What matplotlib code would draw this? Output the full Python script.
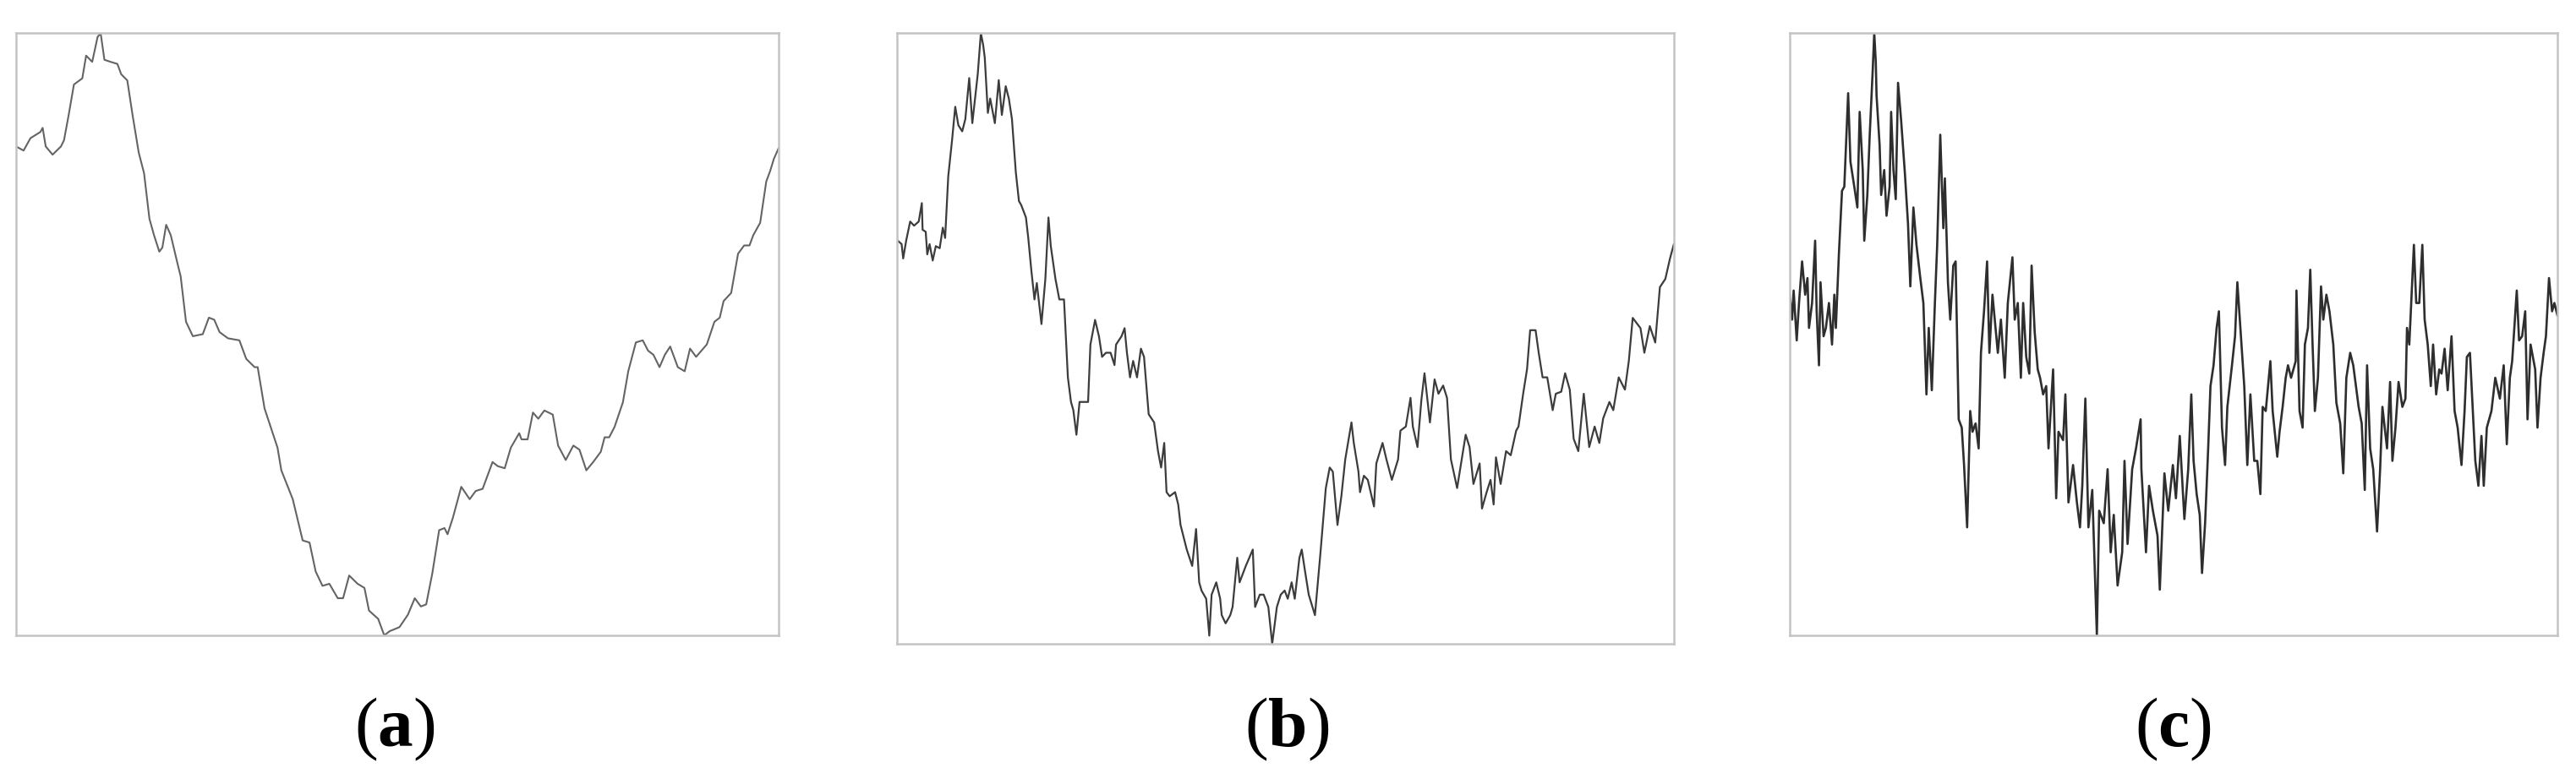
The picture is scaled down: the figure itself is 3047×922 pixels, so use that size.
"""
Three simulated paths with increasing roughness, panels (a), (b), (c).
Values were read off the source figure (arbitrary units, time 0-1000).
"""

import matplotlib.pyplot as plt
import numpy as np

plt.rcParams['font.family'] = ['Liberation Serif', 'DejaVu Serif']
plt.rcParams['mathtext.fontset'] = 'custom'
plt.rcParams['mathtext.rm'] = 'Liberation Serif'
plt.rcParams['mathtext.bf'] = 'Liberation Serif:bold'

# --- panel (a): smooth path ---
t_a = [0, 10, 19, 32, 35, 39, 48, 59, 63, 69, 76, 87, 92, 100, 107, 111, 116, 124, 133, 138,
       146, 153, 161, 168, 175, 181, 188, 192, 197, 203, 212, 216, 223, 232, 245, 253, 260, 267,
       278, 293, 302, 313, 317, 326, 343, 348, 363, 376, 385, 393, 402, 411, 422, 429, 437, 448,
       457, 463, 475, 483, 490, 503, 514, 523, 531, 538, 546, 555, 562, 566, 573, 584, 595, 603,
       612, 625, 632, 641, 649, 660, 663, 671, 678, 685, 693, 704, 711, 721, 731, 739, 748, 757,
       767, 772, 778, 785, 796, 803, 813, 822, 829, 836, 844, 851, 858, 868, 877, 884, 892, 906,
       916, 923, 928, 938, 947, 955, 962, 967, 976, 984, 989, 994, 1000]
y_a = [119.5, 118.5, 121.5, 123, 124, 119.5, 117.5, 119.5, 121, 127, 134.5, 136, 141.5, 140, 146,
       147, 140.5, 140, 139.5, 137, 135.5, 127, 118, 113, 102, 98, 94, 95, 100.5, 98, 91, 88, 77,
       73.5, 74, 78, 77.5, 74.5, 73, 72.5, 68, 66, 66, 56, 46.5, 41, 34, 24, 23.5, 16.5, 13, 13.5,
       10, 10, 15.5, 13.5, 12.5, 7, 5, 1, 2, 3, 6, 10, 8, 8.5, 16, 26.5, 27, 25.5, 29.5, 37, 34,
       36, 36.5, 43, 42, 41.5, 46.5, 50, 48.5, 48.5, 55, 53.5, 55.5, 54.5, 47, 43.5, 47, 46, 41,
       43, 45.5, 49, 49, 51.5, 57.5, 65, 72, 72.5, 70, 69, 66, 69, 71, 66, 65, 70.5, 68.5, 71.5,
       77, 78, 82, 84, 93.5, 95.5, 95.5, 98, 101, 111, 113.5, 116.5, 119]

# --- panel (b): rougher path ---
t_b = [0, 6, 8, 12, 17, 22, 28, 32, 33, 37, 39, 42, 46, 50, 55, 59, 62, 66, 71, 75, 79, 84, 88,
       93, 97, 104, 108, 111, 113, 117, 120, 126, 131, 135, 140, 144, 148, 153, 157, 160, 166,
       169, 173, 177, 180, 186, 191, 195, 198, 204, 209, 215, 220, 224, 227, 231, 235, 246, 249,
       255, 260, 264, 269, 275, 280, 282, 289, 293, 296, 300, 304, 309, 314, 318, 324, 331, 336,
       340, 344, 347, 351, 358, 362, 365, 373, 380, 385, 389, 392, 398, 402, 405, 411, 416, 418,
       423, 429, 432, 438, 441, 449, 458, 461, 467, 472, 478, 483, 489, 494, 499, 503, 508, 512,
       518, 521, 525, 530, 538, 545, 552, 557, 561, 567, 572, 577, 585, 588, 594, 596, 601, 606,
       614, 617, 625, 630, 637, 645, 648, 655, 661, 664, 670, 675, 679, 686, 692, 697, 703, 708,
       713, 721, 732, 737, 742, 750, 753, 759, 764, 768, 771, 777, 784, 790, 797, 800, 806, 811,
       815, 822, 826, 831, 837, 844, 848, 855, 860, 866, 871, 877, 884, 891, 898, 904, 909, 917,
       922, 929, 937, 942, 947, 957, 962, 969, 976, 982, 989, 995, 1000]
y_b = [99, 98, 94.5, 99, 103.5, 102.5, 103.5, 108, 101.5, 101, 95.5, 98, 94, 97.5, 97, 102, 99.5,
       114.5, 123.5, 131.5, 127, 125.5, 128.5, 138.5, 127.5, 139.5, 149.5, 146.5, 143.5, 130,
       133.5, 127.5, 138, 129.5, 136.5, 133.5, 128.5, 115.5, 108.5, 107.5, 104.5, 99.5, 91.5,
       84.5, 88.5, 78.5, 89.5, 104.5, 97.5, 89.5, 84.5, 84.5, 65.5, 59.5, 57.5, 51.5, 59.5, 59.5,
       73.5, 79.5, 75.5, 70.5, 71.5, 71.5, 68.5, 73.5, 75.5, 77.5, 71.5, 65.5, 69.5, 65.5, 72.5,
       70.5, 56.5, 54.5, 47.5, 43.5, 49.5, 37.5, 36.5, 37.5, 34.5, 29.5, 23.5, 19.5, 28.5, 15.5,
       13.5, 11.5, 2.5, 12.5, 15.5, 11.5, 7.5, 5.5, 7.5, 9.5, 21.5, 15.5, 19.5, 23.5, 9.5, 12.5,
       12.5, 9.5, 0.5, 9.5, 12.5, 13.5, 11.5, 15.5, 11.5, 21.5, 23.5, 18.5, 12.5, 7.5, 22.5, 38.5,
       43.5, 42.5, 29.5, 36.5, 45.5, 54.5, 49.5, 42.5, 37.5, 41.5, 40.5, 34, 44.5, 49.5, 45.5,
       40.5, 45.5, 52.5, 53.5, 60.5, 53.5, 48.5, 60, 66.5, 54.5, 65, 61.5, 63.5, 60.5, 45.5, 38.5,
       51.5, 48.5, 39.5, 44.5, 33.5, 37.5, 40.5, 34.5, 46, 39.5, 47.5, 46.5, 52.5, 53.5, 61.5,
       67.5, 77, 77, 71.5, 65.5, 65.5, 57.5, 61.5, 62, 66.5, 62.5, 50.5, 47.5, 61.5, 48.5, 53.5,
       49.5, 55.5, 59.5, 57.5, 65.5, 62.5, 69.5, 80, 77.5, 71.5, 78, 74, 87.5, 89.5, 94.5, 98]

# --- panel (c): roughest path ---
t_c = [0, 3, 5, 9, 12, 16, 20, 23, 25, 29, 33, 35, 38, 40, 44, 47, 51, 55, 58, 60, 64, 68, 71,
       76, 79, 84, 88, 91, 95, 97, 101, 104, 108, 110, 112, 113, 117, 119, 123, 126, 130, 132,
       135, 138, 141, 145, 150, 154, 157, 161, 165, 170, 174, 178, 181, 185, 189, 192, 196, 200,
       202, 206, 209, 213, 216, 220, 224, 227, 231, 235, 238, 242, 246, 249, 253, 257, 260, 264,
       268, 271, 275, 280, 284, 290, 293, 297, 301, 304, 308, 312, 315, 319, 323, 326, 330, 334,
       337, 343, 347, 350, 356, 359, 363, 369, 374, 378, 381, 385, 389, 394, 400, 403, 409, 414,
       418, 422, 427, 433, 436, 440, 446, 451, 457, 458, 464, 468, 473, 479, 482, 488, 493, 499,
       503, 508, 514, 519, 523, 526, 530, 534, 537, 541, 545, 548, 552, 556, 559, 563, 567, 570,
       576, 580, 583, 587, 592, 596, 600, 605, 609, 613, 616, 620, 626, 629, 635, 638, 642, 646,
       649, 653, 659, 660, 664, 668, 671, 675, 678, 681, 684, 688, 692, 695, 699, 703, 708, 712,
       717, 721, 725, 730, 734, 741, 745, 749, 752, 756, 760, 765, 769, 772, 778, 782, 785, 789,
       793, 798, 802, 804, 807, 813, 816, 820, 824, 827, 831, 835, 838, 842, 846, 849, 853, 857,
       862, 866, 870, 875, 879, 882, 886, 890, 893, 897, 901, 904, 908, 914, 919, 925, 930, 934,
       938, 941, 947, 950, 954, 958, 961, 965, 971, 974, 978, 982, 985, 989, 993, 996, 1000]
y_c = [83.5, 77.5, 84.5, 72.5, 81.5, 91.5, 83.5, 87.5, 75.5, 81.5, 96.5, 79.5, 66.5, 86.5, 73.5,
       75.5, 81.5, 71.5, 83.5, 75.5, 93.5, 108.5, 109.5, 132, 115.5, 109.5, 104.5, 127.5, 113.5,
       96.5, 107.5, 121.5, 137.5, 146.5, 139.5, 131.5, 119.5, 107.5, 113.5, 102.5, 109.5, 127.5,
       113.5, 106.5, 134.5, 125.5, 112.5, 100.5, 85.5, 104.5, 95.5, 87.5, 81.5, 59.5, 75.5, 60.5,
       81.5, 95.5, 122, 99.5, 111.5, 86.5, 77.5, 90.5, 91.5, 53.5, 51.5, 42.5, 27.5, 55.5, 50.5,
       52.5, 46.5, 69.5, 79.5, 91.5, 69.5, 83.5, 75.5, 69.5, 77.5, 63.5, 81.5, 92.5, 77.5, 81.5,
       63.5, 81.5, 68.5, 64.5, 90.5, 74.5, 65.5, 63.5, 59.5, 61.5, 46.5, 65.5, 34.5, 50.5, 48.5,
       59.5, 33.5, 42.5, 33.5, 27.5, 37.5, 58.5, 27.5, 36.5, 1.5, 31.5, 28.5, 41.5, 21.5, 30.5,
       13.5, 21.5, 43.5, 23.5, 41.5, 46.5, 53.5, 41.5, 21.5, 37.5, 31.5, 25.5, 12.5, 40.5, 31.5,
       42.5, 34.5, 49.5, 29.5, 41.5, 59.5, 43.5, 35.5, 30.5, 16.5, 28.5, 46.5, 61.5, 66.5, 75.5,
       79.5, 51.5, 42.5, 56.5, 66.5, 73.5, 86.5, 75.5, 61.5, 42.5, 59.5, 43.5, 43.5, 35.5, 56.5,
       55.5, 67.5, 55.5, 44.5, 50.5, 56.5, 63.5, 66.5, 63.5, 67.5, 84.5, 55.5, 51.5, 71.5, 75.5,
       89.5, 71.5, 55.5, 63.5, 85.5, 77.5, 83.5, 79.5, 71.5, 57.5, 52.5, 40.5, 63.5, 69.5, 66.5,
       56.5, 52.5, 36.5, 66.5, 46.5, 41.5, 26.5, 41.5, 56.5, 46.5, 62.5, 43.5, 51.5, 62.5, 56.5,
       58.5, 75.5, 71.5, 95.5, 81.5, 81.5, 95.5, 77.5, 71.5, 61.5, 71.5, 59.5, 65.5, 64.5, 70.5,
       60.5, 73.5, 55.5, 51.5, 42.5, 55.5, 68.5, 69.5, 54.5, 43.5, 37.5, 49.5, 37.5, 51.5, 55.5,
       63.5, 58.5, 66.5, 47.5, 63.5, 67.5, 84.5, 72.5, 73.5, 79.5, 53.5, 71.5, 65.5, 51.5, 63.5,
       69.5, 73.5, 87.5, 79.5, 81.5, 78.5]

panel_labels = ['a', 'b', 'c']

fig = plt.figure(figsize=(30.47, 9.22), dpi=100)

# axes boxes in figure fractions (left, bottom, width, height)
boxes = [
    [0.0062, 0.1844, 0.2960, 0.7733],
    [0.3482, 0.1735, 0.3016, 0.7842],
    [0.6948, 0.1844, 0.2980, 0.7733],
]
series = [(t_a, y_a), (t_b, y_b), (t_c, y_c)]
line_colors = ['#646464', '#3c3c3c', '#2e2e2e']
line_widths = [1.5, 1.6, 1.9]
label_x = [0.1533, 0.4995, 0.8435]

for i, (t, y) in enumerate(series):
    ax = fig.add_axes(boxes[i])
    ax.plot(np.array(t), np.array(y), color=line_colors[i], linewidth=line_widths[i])
    ax.margins(x=0, y=0)
    ax.set_xticks([])
    ax.set_yticks([])
    for spine in ax.spines.values():
        spine.set_color('#c4c4c4')
        spine.set_linewidth(1.8)
    fig.text(label_x[i], 0.064, '($\\mathbf{%s}$)' % panel_labels[i],
             ha='center', va='center', fontsize=60)

fig.savefig('out.png', dpi=100, facecolor='white')
plt.close(fig)
